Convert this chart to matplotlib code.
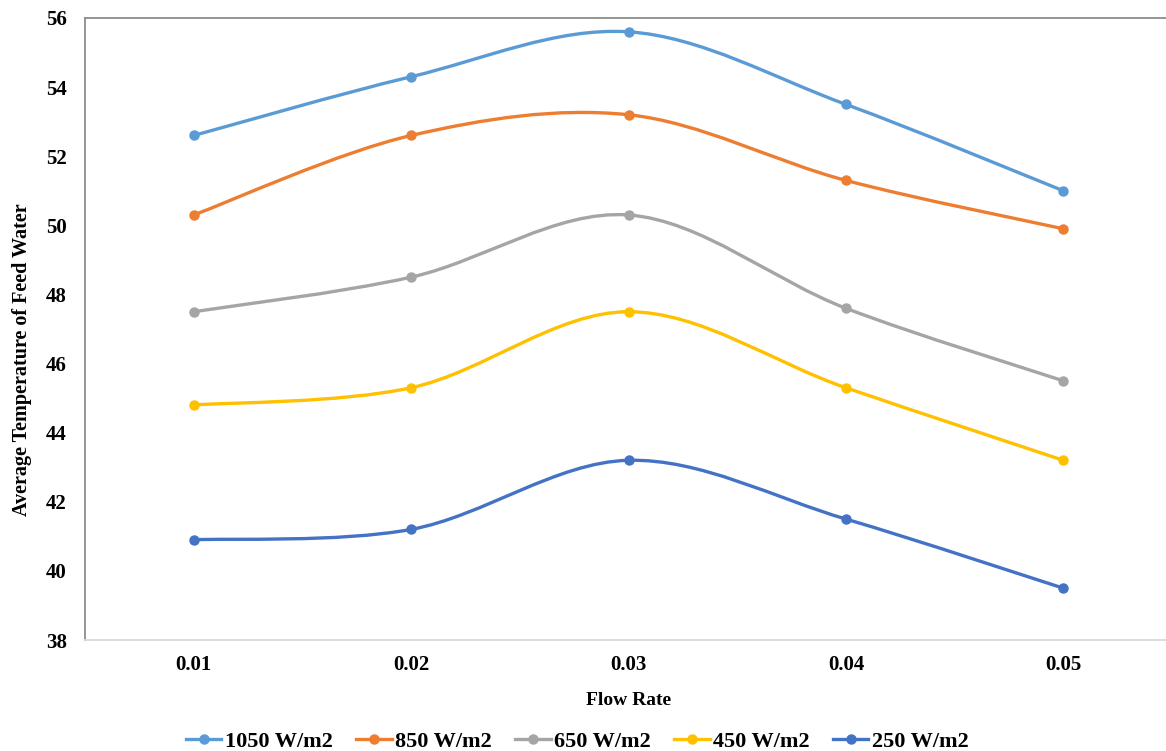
import numpy as np
import matplotlib
matplotlib.use("Agg")
import matplotlib.pyplot as plt
from matplotlib.path import Path
from matplotlib.patches import PathPatch
from matplotlib.lines import Line2D

plt.rcParams['font.family'] = ['Liberation Serif', 'DejaVu Serif']
plt.rcParams['font.weight'] = 'bold'

# --- dados ---
flow_rate = ['0.01', '0.02', '0.03', '0.04', '0.05']
labels = ['1050 W/m2', '850 W/m2', '650 W/m2', '450 W/m2', '250 W/m2']
colors = ['#5B9BD5', '#ED7D31', '#A5A5A5', '#FFC000', '#4472C4']

t_1050 = [52.6, 54.3, 55.6, 53.5, 51.0]
t_850 = [50.3, 52.6, 53.2, 51.3, 49.9]
t_650 = [47.5, 48.5, 50.3, 47.6, 45.5]
t_450 = [44.8, 45.3, 47.5, 45.3, 43.2]
t_250 = [40.9, 41.2, 43.2, 41.5, 39.5]
series = [t_1050, t_850, t_650, t_450, t_250]


def smooth_path(xs, ys):
    # curva suavizada estilo Excel (Bezier tipo Catmull-Rom)
    pts = np.column_stack([xs, ys]).astype(float)
    n = len(pts)
    verts = [pts[0]]
    codes = [Path.MOVETO]
    for i in range(n - 1):
        p0 = pts[i - 1] if i > 0 else pts[i]
        p1 = pts[i]
        p2 = pts[i + 1]
        p3 = pts[i + 2] if i + 2 < n else pts[i + 1]
        c1 = p1 + (p2 - p0) / 6.0
        c2 = p2 - (p3 - p1) / 6.0
        verts += [c1, c2, p2]
        codes += [Path.CURVE4] * 3
    return Path(verts, codes)


fig = plt.figure(figsize=(11.66, 7.51), dpi=100)
ax = fig.add_axes([85 / 1166, 111 / 751, 1087 / 1166, 622 / 751])

x = np.arange(1, len(flow_rate) + 1)
for ys, c in zip(series, colors):
    patch = PathPatch(smooth_path(x, ys), facecolor='none', edgecolor=c,
                      linewidth=2.4, capstyle='round', zorder=2)
    ax.add_patch(patch)
    ax.plot(x, ys, linestyle='none', marker='o', markersize=6.5,
            color=c, zorder=3)

ax.set_xlim(0.5, 5.5)
ax.set_ylim(38, 56)
ax.set_yticks(np.arange(38, 57, 2))
ax.set_xticks(x)
ax.set_xticklabels(flow_rate)
ax.tick_params(axis='both', length=0, labelsize=15)
ax.tick_params(axis='y', pad=13)
ax.tick_params(axis='x', pad=11)

for side in ['top', 'left']:
    ax.spines[side].set_color('#8c8c8c')
    ax.spines[side].set_linewidth(1.3)
ax.spines['bottom'].set_color('#d9d9d9')
ax.spines['bottom'].set_linewidth(1.3)
ax.spines['right'].set_visible(False)

ax.set_ylabel('Average Temperature of Feed Water', fontsize=14.5,
              fontweight='bold')
ax.yaxis.set_label_coords(-0.049, 0.45)
ax.set_xlabel('Flow Rate', fontsize=14, fontweight='bold', labelpad=12)

handles = [Line2D([], [], color=c, linewidth=2.4, marker='o', markersize=6.5)
           for c in colors]
fig.legend(handles, labels, loc='center', ncol=5,
           bbox_to_anchor=(0.495, 0.013), frameon=False, fontsize=16,
           handlelength=1.6, handletextpad=0.15, columnspacing=1.05)

fig.savefig('out.png', dpi=100)
